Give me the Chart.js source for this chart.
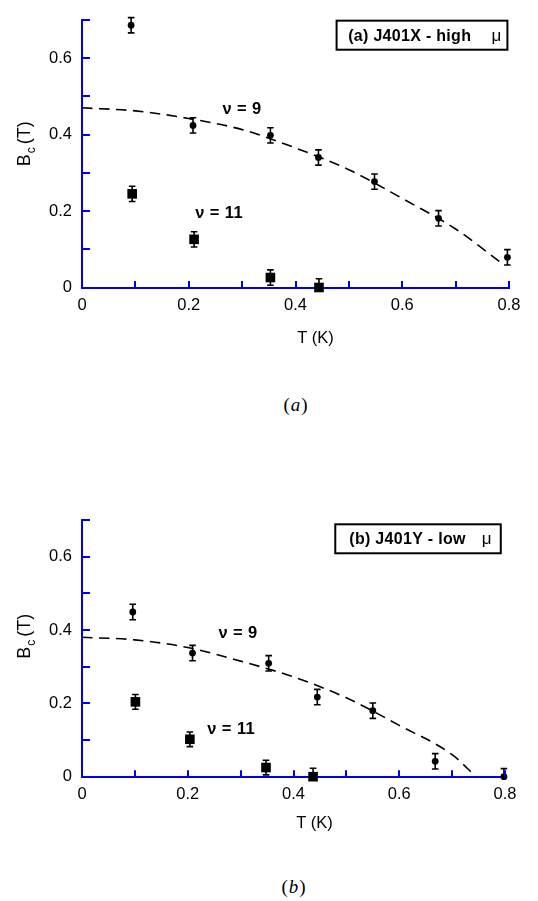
<!DOCTYPE html>
<html><head><meta charset="utf-8">
<script src="https://cdn.jsdelivr.net/npm/chart.js@4.4.0/dist/chart.umd.min.js"></script>
<style>
html,body{margin:0;padding:0;background:#fff;width:538px;height:901px;overflow:hidden;}
canvas{position:absolute;left:0;display:block;}
#cA{top:0;}
#cB{top:500px;}
.cap{position:absolute;font-family:"Liberation Serif","DejaVu Serif",serif;font-size:19px;transform:translate(-50%,-50%);letter-spacing:1px;color:#000;white-space:nowrap;}
</style></head><body>
<canvas id="cA" width="538" height="350"></canvas>
<div class="cap" style="left:296px;top:405px">(<i>a</i>)</div>
<canvas id="cB" width="538" height="345"></canvas>
<div class="cap" style="left:294px;top:887px">(<i>b</i>)</div>
<script>
// ---------- data ----------
const xTickLabels = ['0', '0.2', '0.4', '0.6', '0.8'];
const yTickLabels = ['0', '0.2', '0.4', '0.6'];
const seriesLabels = ['ν = 9', 'ν = 11'];
const xTitle = 'T (K)';
const yTitleParts = ['B', 'c', '(T)'];
const boxTitleA = ['(a) J401X - high', 'μ'];
const boxTitleB = ['(b) J401Y - low', 'μ'];

// panel (a): J401X - high mobility
const aNu9T   = [0.092, 0.208, 0.353, 0.443, 0.548, 0.668, 0.797];
const aNu9B   = [0.686, 0.424, 0.398, 0.340, 0.277, 0.181, 0.079];
const aNu9Err = [0.020, 0.020, 0.020, 0.020, 0.020, 0.020, 0.020];
const aNu11T   = [0.094, 0.210, 0.353, 0.444];
const aNu11B   = [0.245, 0.126, 0.026, 0.000];
const aNu11Err = [0.020, 0.020, 0.020, 0.023];
const aFitT = [0, 0.1, 0.2, 0.3, 0.4, 0.5, 0.6, 0.7, 0.786];
const aFitB = [0.470, 0.462, 0.442, 0.413, 0.365, 0.308, 0.233, 0.153, 0.064];

// panel (b): J401Y - low mobility
const bNu9T   = [0.096, 0.209, 0.353, 0.445, 0.550, 0.668, 0.798];
const bNu9B   = [0.449, 0.337, 0.309, 0.217, 0.180, 0.042, 0.000];
const bNu9Err = [0.021, 0.021, 0.021, 0.021, 0.021, 0.021, 0.022];
const bNu11T   = [0.101, 0.204, 0.348, 0.437];
const bNu11B   = [0.204, 0.102, 0.025, 0.000];
const bNu11Err = [0.020, 0.020, 0.020, 0.023];
const bFitT = [0, 0.1, 0.2, 0.3, 0.4, 0.5, 0.6, 0.7, 0.745];
const bFitB = [0.380, 0.373, 0.352, 0.315, 0.272, 0.215, 0.140, 0.060, 0.000];

// ---------- styling ----------
const BLUE = '#0000ee';
const SANS = '"Liberation Sans", Arial, Helvetica, sans-serif';

function pts(xs, ys) { return xs.map((x, i) => ({ x: x, y: ys[i] })); }
function labelFor(list, v) {
  const s = list.find(l => Math.abs(parseFloat(l) - v) < 1e-6);
  return s === undefined ? '' : s;
}

const decor = {
  id: 'decor',
  afterDatasetsDraw(chart) {
    const ctx = chart.ctx, xs = chart.scales.x, ys = chart.scales.y, ca = chart.chartArea;
    ctx.save();
    ctx.beginPath();
    ctx.rect(0, 0, chart.width, ca.bottom);
    ctx.clip();
    ctx.strokeStyle = '#000';
    ctx.lineWidth = 1.6;
    chart.data.datasets.forEach(ds => {
      if (!ds.errors) return;
      ds.data.forEach((p, j) => {
        const e = ds.errors[j];
        const px = xs.getPixelForValue(p.x);
        const y1 = ys.getPixelForValue(p.y + e), y2 = ys.getPixelForValue(p.y - e);
        ctx.beginPath();
        ctx.moveTo(px, y1); ctx.lineTo(px, y2);
        ctx.moveTo(px - 3.3, y1); ctx.lineTo(px + 3.3, y1);
        ctx.moveTo(px - 3.3, y2); ctx.lineTo(px + 3.3, y2);
        ctx.stroke();
      });
    });
    ctx.restore();
  },
  afterDraw(chart, args, o) {
    const ctx = chart.ctx, xs = chart.scales.x, ys = chart.scales.y, ca = chart.chartArea;
    ctx.save();
    // inward tick marks
    ctx.strokeStyle = BLUE; ctx.lineWidth = 2;
    xs.ticks.forEach(t => {
      const px = Math.round(xs.getPixelForValue(t.value));
      ctx.beginPath(); ctx.moveTo(px, ca.bottom); ctx.lineTo(px, ca.bottom - 6.5); ctx.stroke();
    });
    ys.ticks.forEach(t => {
      const py = Math.round(ys.getPixelForValue(t.value));
      ctx.beginPath(); ctx.moveTo(ca.left, py); ctx.lineTo(ca.left + 8, py); ctx.stroke();
    });
    // x title
    ctx.fillStyle = '#000';
    ctx.font = '16.5px ' + SANS;
    ctx.textAlign = 'center'; ctx.textBaseline = 'middle';
    ctx.fillText(xTitle, (ca.left + ca.right) / 2 + o.xTitleDx, ca.bottom + o.xTitleDy);
    // y title with subscript
    ctx.save();
    ctx.translate(o.yTitleX, (ca.top + ca.bottom) / 2 + o.yTitleDy);
    ctx.rotate(-Math.PI / 2);
    const big = '18px ' + SANS, small = '12px ' + SANS;
    ctx.font = big; const wB = ctx.measureText(yTitleParts[0]).width, wT = ctx.measureText(yTitleParts[2]).width;
    ctx.font = small; const wc = ctx.measureText(yTitleParts[1]).width;
    const total = wB + 1 + wc + 3 + wT;
    let tx = -total / 2;
    ctx.textAlign = 'left'; ctx.textBaseline = 'alphabetic';
    ctx.font = big; ctx.fillText(yTitleParts[0], tx, 0); tx += wB + 1;
    ctx.font = small; ctx.fillText(yTitleParts[1], tx, 5); tx += wc + 3;
    ctx.font = big; ctx.fillText(yTitleParts[2], tx, 0);
    ctx.restore();
    // boxed label
    const b = o.box;
    const bx0 = xs.getPixelForValue(b.x0), bx1 = xs.getPixelForValue(b.x1);
    const by0 = ys.getPixelForValue(b.y0), by1 = ys.getPixelForValue(b.y1);
    ctx.fillStyle = '#fff';
    ctx.fillRect(bx0, by0, bx1 - bx0, by1 - by0);
    ctx.strokeStyle = '#000'; ctx.lineWidth = 2;
    ctx.strokeRect(bx0, by0, bx1 - bx0, by1 - by0);
    ctx.fillStyle = '#000';
    ctx.textBaseline = 'middle';
    ctx.textAlign = 'left';
    ctx.font = 'bold 16px ' + SANS;
    try { ctx.letterSpacing = '0.3px'; } catch (e) {}
    ctx.fillText(b.text[0], bx0 + b.textDx, (by0 + by1) / 2 + 1);
    try { ctx.letterSpacing = '0px'; } catch (e) {}
    ctx.textAlign = 'right';
    ctx.font = '17px ' + SANS;
    ctx.fillText(b.text[1], bx1 - b.symDx, (by0 + by1) / 2 + 1);
    // series labels
    ctx.textAlign = 'left';
    ctx.font = 'bold 16.5px ' + SANS;
    try { ctx.letterSpacing = '0.4px'; } catch (e) {}
    o.labels.forEach((l, i) => {
      ctx.fillText(seriesLabels[i], xs.getPixelForValue(l.x), ys.getPixelForValue(l.y));
    });
    try { ctx.letterSpacing = '0px'; } catch (e) {}
    ctx.restore();
  }
};

function makeChart(id, d, lay, deco) {
  return new Chart(document.getElementById(id), {
    type: 'scatter',
    data: {
      datasets: [
        { label: 'fit', data: pts(d.fitT, d.fitB), showLine: true, borderColor: '#000',
          borderWidth: 1.6, borderDash: [10.5, 6.5], pointRadius: 0, pointHoverRadius: 0,
          cubicInterpolationMode: 'monotone', fill: false, clip: false },
        { label: seriesLabels[0], data: pts(d.nu9T, d.nu9B), errors: d.nu9Err, pointStyle: 'circle',
          pointRadius: 3.4, backgroundColor: '#000', borderColor: '#000', borderWidth: 0, clip: false },
        { label: seriesLabels[1], data: pts(d.nu11T, d.nu11B), errors: d.nu11Err, pointStyle: 'rect',
          pointRadius: 6.8, backgroundColor: '#000', borderColor: '#000', borderWidth: 0, clip: false }
      ]
    },
    options: {
      responsive: false, animation: false, devicePixelRatio: 1,
      layout: { padding: { left: 0, right: lay.padRight, top: lay.padTop, bottom: 0 } },
      plugins: { legend: { display: false }, tooltip: { enabled: false }, decor: deco },
      scales: {
        x: {
          type: 'linear', min: 0, max: 0.8,
          afterFit(s) { s.height = lay.xH; },
          grid: { display: false, drawTicks: false },
          border: { display: true, color: BLUE, width: 2 },
          ticks: { stepSize: 0.1, autoSkip: false, maxRotation: 0, padding: 8, color: '#000',
                   font: { family: SANS, size: 16.5 }, callback: v => labelFor(xTickLabels, v) }
        },
        y: {
          type: 'linear', min: 0, max: 0.7,
          afterFit(s) { s.width = lay.yW; },
          grid: { display: false, drawTicks: false },
          border: { display: true, color: BLUE, width: 2 },
          ticks: { stepSize: 0.1, autoSkip: false, padding: 10, color: '#000',
                   font: { family: SANS, size: 16.5 }, callback: v => labelFor(yTickLabels, v) }
        }
      }
    },
    plugins: [decor]
  });
}

makeChart('cA',
  { fitT: aFitT, fitB: aFitB, nu9T: aNu9T, nu9B: aNu9B, nu9Err: aNu9Err, nu11T: aNu11T, nu11B: aNu11B, nu11Err: aNu11Err },
  { padRight: 29, padTop: 12.7, xH: 62.5, yW: 82 },
  { xTitleDx: 20, xTitleDy: 50.5, yTitleX: 30, yTitleDy: -10,
    box: { x0: 0.477, x1: 0.797, y0: 0.698, y1: 0.622, text: boxTitleA, textDx: 11.6, symDx: 6 },
    labels: [{ x: 0.263, y: 0.467 }, { x: 0.212, y: 0.194 }] });

makeChart('cB',
  { fitT: bFitT, fitB: bFitB, nu9T: bNu9T, nu9B: bNu9B, nu9Err: bNu9Err, nu11T: bNu11T, nu11B: bNu11B, nu11Err: bNu11Err },
  { padRight: 33, padTop: 14, xH: 68.3, yW: 82 },
  { xTitleDx: 21, xTitleDy: 46.6, yTitleX: 30, yTitleDy: -12,
    box: { x0: 0.479, x1: 0.792, y0: 0.688, y1: 0.609, text: boxTitleB, textDx: 14, symDx: 9.3 },
    labels: [{ x: 0.258, y: 0.391 }, { x: 0.237, y: 0.129 }] });
</script>
</body></html>
